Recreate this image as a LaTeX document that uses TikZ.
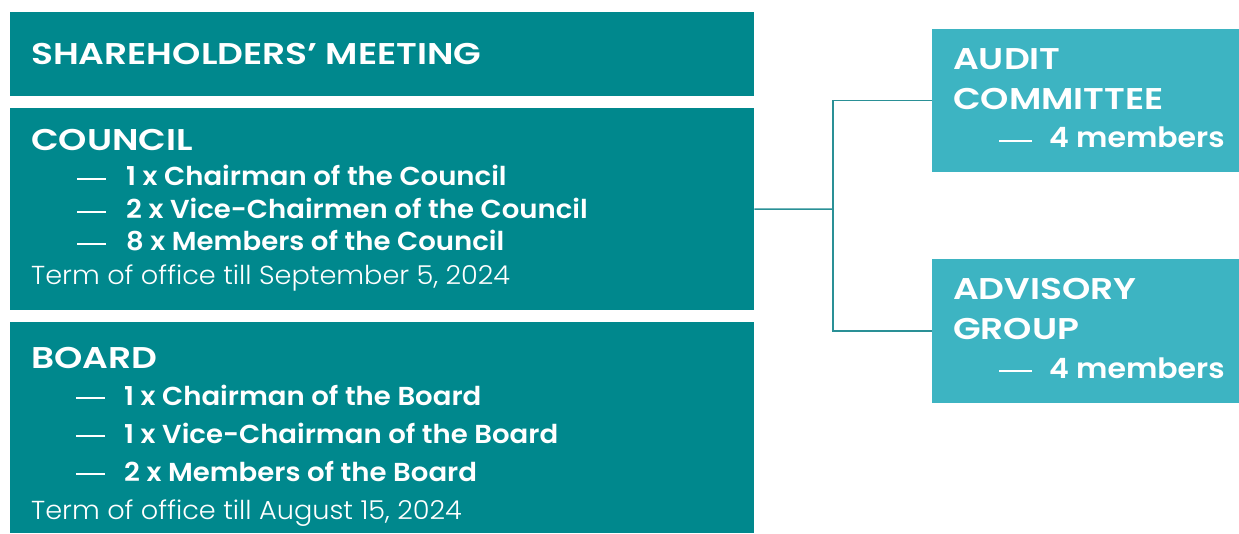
\documentclass[tikz,border=0pt]{standalone}
\usepackage{fontspec}
\setmainfont{Poppins}
\newfontfamily\headfont{Poppins SemiBold}[FakeStretch=1.20]
\newfontfamily\itemfont{Poppins SemiBold}[FakeStretch=1.06]
\newfontfamily\memfont{Poppins SemiBold}[FakeStretch=1.07]
\newfontfamily\termfont{Poppins Light}[FakeStretch=1.045]
\definecolor{darkteal}{HTML}{00888D}
\definecolor{lightteal}{HTML}{3DB4C2}
\definecolor{linecol}{HTML}{2A9096}
\tikzset{
  darkbox/.style={fill=darkteal, draw=none, anchor=north west, inner sep=0pt},
  lightbox/.style={fill=lightteal, draw=none, anchor=north west, inner sep=0pt},
  head/.style={text=white, anchor=base west, inner sep=0pt, font=\fontsize{30}{34}\headfont},
  item/.style={text=white, anchor=base west, inner sep=0pt, font=\fontsize{26}{30}\itemfont},
  memb/.style={text=white, anchor=base west, inner sep=0pt, font=\fontsize{28}{32}\memfont},
  term/.style={text=white, anchor=base west, inner sep=0pt, font=\fontsize{26}{30}\termfont},
  dashline/.style={draw=white, line width=1.2pt},
  conn/.style={draw=linecol, line width=1.5pt}
}
\begin{document}
\begin{tikzpicture}[x=1pt,y=-1pt]
\useasboundingbox (0,0) rectangle (1239,534);
% boxes
\node[darkbox, minimum width=744pt, minimum height=84pt] (share) at (10,12) {};
\node[darkbox, minimum width=744pt, minimum height=202pt] (council) at (10,108) {};
\node[darkbox, minimum width=744pt, minimum height=211pt] (board) at (10,322) {};
\node[lightbox, minimum width=307pt, minimum height=143pt] (audit) at (932,29) {};
\node[lightbox, minimum width=307pt, minimum height=144pt] (advisory) at (932,259) {};
% connectors
\coordinate (j) at (833,209);
\draw[conn] (council.east) -- (j);
\draw[conn] (audit.west) -| (j) |- (advisory.west);
% shareholders
\node[head] (shT) at (31,65) {SHAREHOLDERS’ MEETING};
% council
\node[head] (coT) at (31,151) {COUNCIL};
\foreach \y/\t/\n in {186/1 x Chairman of the Council/c1, 219/2 x Vice-Chairmen of the Council/c2, 251/8 x Members of the Council/c3}{
  \coordinate (\n d) at (77,\y-7);
  \draw[dashline] (\n d) -- ++(29,0);
  \node[item] (\n) at (126,\y) {\t};
}
\node[term] (coTerm) at (31,285) {Term of office till September 5, 2024};
% board
\node[head] (boT) at (31,368) {BOARD};
\foreach \y/\t/\n in {405/1 x Chairman of the Board/b1, 443/1 x Vice-Chairman of the Board/b2, 481/2 x Members of the Board/b3}{
  \coordinate (\n d) at (76,\y-7);
  \draw[dashline] (\n d) -- ++(29,0);
  \node[item] (\n) at (124,\y) {\t};
}
\node[term] (boTerm) at (31,519) {Term of office till August 15, 2024};
% audit
\node[head] (auT1) at (953,70) {AUDIT};
\node[head] (auT2) at (953,110) {COMMITTEE};
\coordinate (aud) at (999,141);
\draw[dashline] (aud) -- ++(33,0);
\node[memb] (auM) at (1049,148) {4 members};
% advisory
\node[head] (adT1) at (953,300) {ADVISORY};
\node[head] (adT2) at (953,340) {GROUP};
\coordinate (add) at (999,371);
\draw[dashline] (add) -- ++(33,0);
\node[memb] (adM) at (1049,378) {4 members};
\end{tikzpicture}
\end{document}
